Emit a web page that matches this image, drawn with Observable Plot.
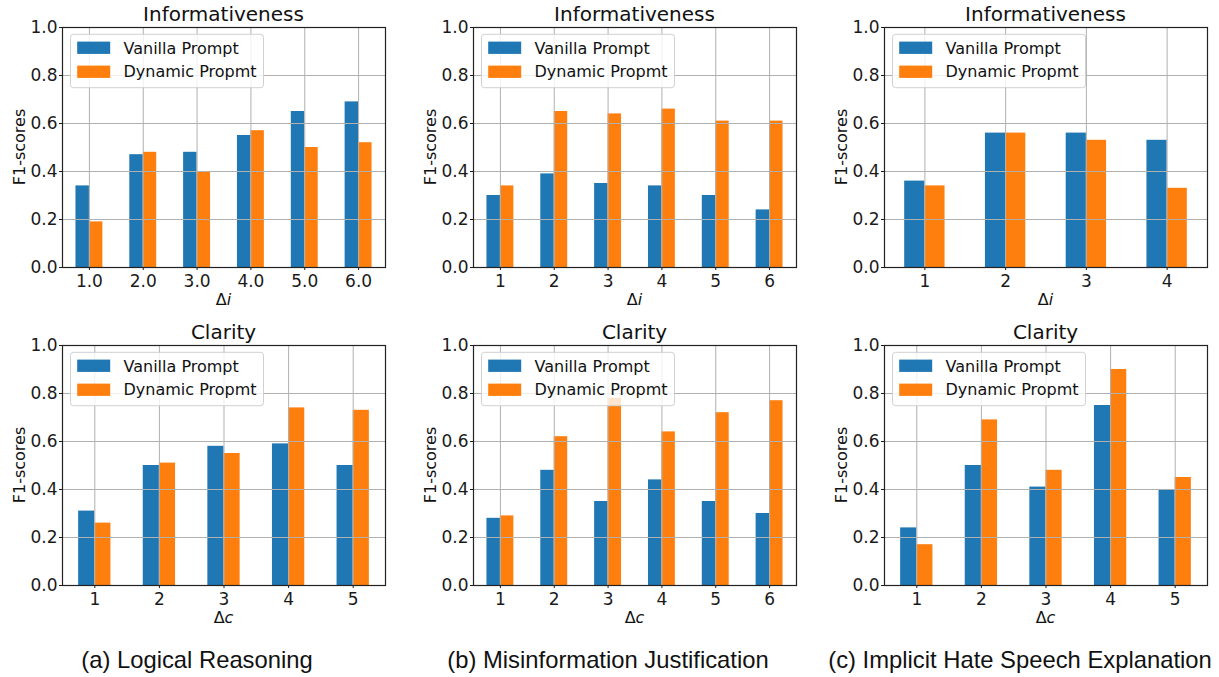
<!DOCTYPE html>
<html>
<head>
<meta charset="utf-8">
<script src="https://cdn.jsdelivr.net/npm/d3@7"></script>
<script src="https://cdn.jsdelivr.net/npm/@observablehq/plot@0.6"></script>
<style>
  body { margin: 0; background: #fff; }
  #fig { position: relative; width: 1219px; height: 677px; overflow: hidden; background: #fff; }
  .panel { position: absolute; }
  .cap { position: absolute; top: 648px; font-family: "Liberation Sans", Arial, sans-serif; font-size: 23.8px; line-height: 24px; color: #111; white-space: nowrap; transform: translateX(-50%); }
</style>
</head>
<body>
<div id="fig"></div>
<script>
// ---- data ----
const seriesNames = ["Vanilla Prompt", "Dynamic Propmt"];
const seriesColors = ["#1f77b4", "#ff7f0e"];
const yTicks = [0, 0.2, 0.4, 0.6, 0.8, 1.0];

const aInfLabels = ["1.0", "2.0", "3.0", "4.0", "5.0", "6.0"];
const aInfVanilla = [0.34, 0.47, 0.48, 0.55, 0.65, 0.69];
const aInfDynamic = [0.19, 0.48, 0.40, 0.57, 0.50, 0.52];

const aClaLabels = ["1", "2", "3", "4", "5"];
const aClaVanilla = [0.31, 0.50, 0.58, 0.59, 0.50];
const aClaDynamic = [0.26, 0.51, 0.55, 0.74, 0.73];

const bInfLabels = ["1", "2", "3", "4", "5", "6"];
const bInfVanilla = [0.30, 0.39, 0.35, 0.34, 0.30, 0.24];
const bInfDynamic = [0.34, 0.65, 0.64, 0.66, 0.61, 0.61];

const bClaLabels = ["1", "2", "3", "4", "5", "6"];
const bClaVanilla = [0.28, 0.48, 0.35, 0.44, 0.35, 0.30];
const bClaDynamic = [0.29, 0.62, 0.78, 0.64, 0.72, 0.77];

const cInfLabels = ["1", "2", "3", "4"];
const cInfVanilla = [0.36, 0.56, 0.56, 0.53];
const cInfDynamic = [0.34, 0.56, 0.53, 0.33];

const cClaLabels = ["1", "2", "3", "4", "5"];
const cClaVanilla = [0.24, 0.50, 0.41, 0.75, 0.40];
const cClaDynamic = [0.17, 0.69, 0.48, 0.90, 0.45];

const captions = ["(a) Logical Reasoning", "(b) Misinformation Justification", "(c) Implicit Hate Speech Explanation"];

// ---- layout ----
const panels = [
  {left: 0,   top: 0,   width: 405, mL: 62, mR: 20, title: "Informativeness", v: "i", labels: aInfLabels, vanilla: aInfVanilla, dynamic: aInfDynamic},
  {left: 405, top: 0,   width: 405, mL: 68, mR: 14, title: "Informativeness", v: "i", labels: bInfLabels, vanilla: bInfVanilla, dynamic: bInfDynamic},
  {left: 810, top: 0,   width: 409, mL: 74, mR: 12, title: "Informativeness", v: "i", labels: cInfLabels, vanilla: cInfVanilla, dynamic: cInfDynamic},
  {left: 0,   top: 318, width: 405, mL: 62, mR: 20, title: "Clarity", v: "c", labels: aClaLabels, vanilla: aClaVanilla, dynamic: aClaDynamic},
  {left: 405, top: 318, width: 405, mL: 68, mR: 14, title: "Clarity", v: "c", labels: bClaLabels, vanilla: bClaVanilla, dynamic: bClaDynamic},
  {left: 810, top: 318, width: 409, mL: 74, mR: 12, title: "Clarity", v: "c", labels: cClaLabels, vanilla: cClaVanilla, dynamic: cClaDynamic}
];
const H = 318, mT = 27, mB = 51;
const FONT = "DejaVu Sans, sans-serif";
const fig = document.getElementById("fig");

for (const p of panels) {
  const n = p.labels.length;
  const xs = d3.range(1, n + 1);
  const rows = [];
  p.labels.forEach((lab, i) => {
    rows.push({x: i + 1, s: 0, value: p.vanilla[i]});
    rows.push({x: i + 1, s: 1, value: p.dynamic[i]});
  });
  const chart = Plot.plot({
    width: p.width, height: H,
    marginLeft: p.mL, marginRight: p.mR, marginTop: mT, marginBottom: mB,
    style: {fontFamily: FONT, fontSize: "17px", color: "#1a1a1a", background: "transparent", overflow: "visible"},
    x: {type: "linear", domain: [0.5, n + 0.5]},
    y: {domain: [0, 1]},
    marks: [
      Plot.rectY(rows, {
        x1: d => d.x + (d.s === 0 ? -0.25 : 0),
        x2: d => d.x + (d.s === 0 ? 0 : 0.25),
        y1: 0, y2: "value",
        fill: d => seriesColors[d.s]
      }),
      Plot.gridX({ticks: xs, stroke: "#b0b0b0", strokeOpacity: 1, strokeWidth: 1}),
      Plot.gridY({ticks: yTicks, stroke: "#b0b0b0", strokeOpacity: 1, strokeWidth: 1}),
      Plot.frame({stroke: "#222", strokeWidth: 1.2}),
      Plot.axisX({ticks: xs, tickFormat: d => p.labels[d - 1], tickSize: 3, tickPadding: 4, fontSize: 17, label: null}),
      Plot.axisY({ticks: yTicks, tickFormat: d3.format(".1f"), tickSize: 3, tickPadding: 2, fontSize: 17, label: null})
    ]
  });
  const wrap = document.createElement("div");
  wrap.className = "panel";
  wrap.style.left = p.left + "px";
  wrap.style.top = p.top + "px";
  wrap.appendChild(chart);
  fig.appendChild(wrap);

  const svg = d3.select(chart);
  const fw = p.width - p.mL - p.mR;
  const cx = p.mL + fw / 2;
  // title
  svg.append("text").attr("x", cx).attr("y", 21).attr("text-anchor", "middle")
    .attr("font-family", FONT).attr("font-size", 20).attr("fill", "#111").text(p.title);
  // x label
  const xl = svg.append("text").attr("x", cx).attr("y", 305).attr("text-anchor", "middle")
    .attr("font-family", FONT).attr("font-size", 16).attr("fill", "#111");
  xl.append("tspan").text("Δ");
  xl.append("tspan").attr("font-style", "italic").text(p.v);
  // y label
  svg.append("text").attr("transform", `translate(${p.mL - 37},${mT + (H - mT - mB) / 2}) rotate(-90)`)
    .attr("text-anchor", "middle").attr("font-family", FONT).attr("font-size", 16).attr("fill", "#111").text("F1-scores");
  // legend
  const lg = svg.append("g").attr("transform", `translate(${p.mL + 8.5},${mT + 7.3})`);
  lg.append("rect").attr("width", 193).attr("height", 53.4).attr("rx", 3)
    .attr("fill", "#fff").attr("fill-opacity", 0.8).attr("stroke", "#d0d0d0").attr("stroke-width", 1);
  seriesNames.forEach((name, i) => {
    lg.append("rect").attr("x", 6.7).attr("y", 7.3 + i * 24).attr("width", 33).attr("height", 12.3).attr("fill", seriesColors[i]);
    lg.append("text").attr("x", 53).attr("y", 19.5 + i * 23.5).attr("text-anchor", "start")
      .attr("font-family", FONT).attr("font-size", 16).attr("fill", "#111").text(name);
  });
}

const capX = [197, 608, 1020];
captions.forEach((c, i) => {
  const d = document.createElement("div");
  d.className = "cap";
  d.style.left = capX[i] + "px";
  d.textContent = c;
  fig.appendChild(d);
});
</script>
</body>
</html>
